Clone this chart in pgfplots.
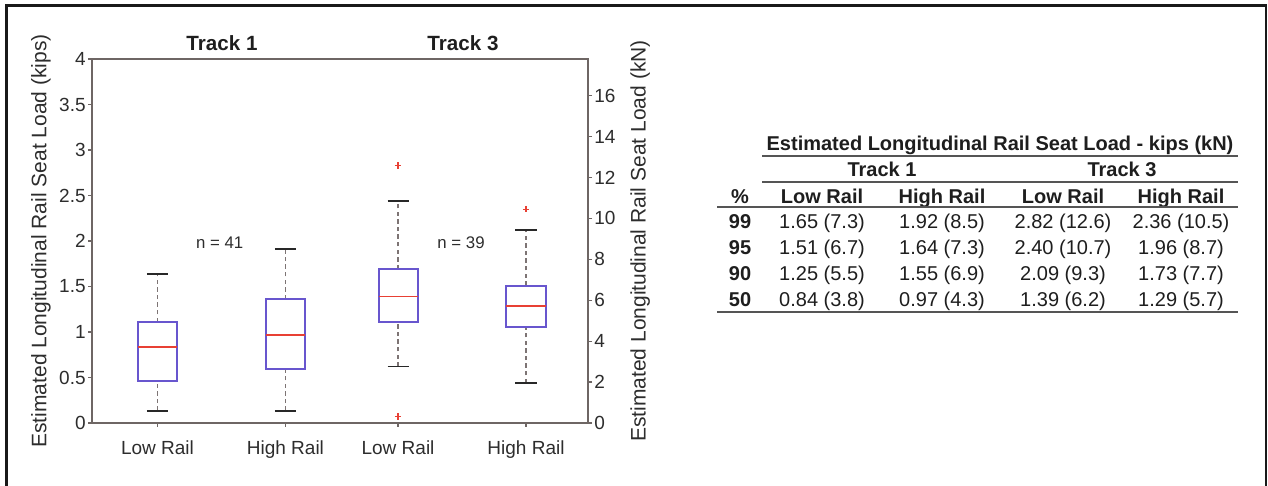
\documentclass[border=0pt]{standalone}
\usepackage{pgfplots}
\pgfplotsset{compat=1.18}
\usepgfplotslibrary{statistics}
\usepackage{fontspec}
\setmainfont{Liberation Sans}
\definecolor{boxblue}{RGB}{104,86,206}
\definecolor{medred}{RGB}{232,64,52}
\definecolor{whisk}{RGB}{125,116,116}
\definecolor{capc}{RGB}{40,40,40}
\definecolor{axc}{RGB}{110,102,100}
\definecolor{tickc}{RGB}{45,45,45}
\definecolor{rulec}{RGB}{85,85,85}
\definecolor{framec}{RGB}{25,25,25}
\definecolor{tablec}{RGB}{30,30,30}

\pgfplotsset{
  myboxes/.style={
    boxplot/draw direction=y,
    boxplot/draw/box/.code={\draw[boxblue,line width=1bp] (boxplot box cs:\pgfplotsboxplotvalue{lower quartile},0) rectangle (boxplot box cs:\pgfplotsboxplotvalue{upper quartile},1);},
    boxplot/draw/median/.code={\draw[medred,line width=0.9bp] (boxplot box cs:\pgfplotsboxplotvalue{median},0) -- (boxplot box cs:\pgfplotsboxplotvalue{median},1);},
    boxplot/draw/lower whisker/.code={\draw[whisk,line width=0.55bp,dash pattern=on 2.2bp off 1.6bp] (boxplot cs:\pgfplotsboxplotvalue{lower whisker}) -- (boxplot cs:\pgfplotsboxplotvalue{lower quartile});
      \draw[capc,line width=0.85bp] (boxplot whisker cs:\pgfplotsboxplotvalue{lower whisker},0) -- (boxplot whisker cs:\pgfplotsboxplotvalue{lower whisker},1);},
    boxplot/draw/upper whisker/.code={\draw[whisk,line width=0.55bp,dash pattern=on 2.2bp off 1.6bp] (boxplot cs:\pgfplotsboxplotvalue{upper quartile}) -- (boxplot cs:\pgfplotsboxplotvalue{upper whisker});
      \draw[capc,line width=0.85bp] (boxplot whisker cs:\pgfplotsboxplotvalue{upper whisker},0) -- (boxplot whisker cs:\pgfplotsboxplotvalue{upper whisker},1);},
    boxplot/box extend=0.315,
    boxplot/whisker extend=0.17,
  },
}

\begin{document}
\begin{tikzpicture}
\begin{scope}[x=0.5bp,y=0.5bp]
\useasboundingbox (0,0) rectangle (1268,486);
\fill[white] (0,0) rectangle (1268,486);
\draw[framec,line width=1.3bp] (6.5,-4) -- (6.5,480.5) -- (1266,480.5) -- (1266,-4);
\end{scope}

\begin{axis}[
  at={(46bp,31.5bp)}, anchor=south west,
  scale only axis, width=248bp, height=182bp,
  xmin=0.5, xmax=4.5, ymin=0, ymax=4,
  myboxes,
  xtick={1.028,2.06,2.968,4},
  xticklabels={Low Rail,High Rail,Low Rail,High Rail},
  ytick={0,0.5,1,1.5,2,2.5,3,3.5,4},
  xtick pos=bottom, ytick pos=left,
  tick align=outside, major tick length=2bp,
  axis line style={axc,line width=0.9bp},
  every tick/.style={axc,line width=0.6bp},
  /pgf/number format/assume math mode=true,
  yticklabel style={font=\fontsize{9.5bp}{11bp}\selectfont, text=tickc, inner sep=1bp},
  xticklabel style={font=\fontsize{9.5bp}{11bp}\selectfont, text=tickc, inner sep=1bp, yshift=-5.5bp},
  ylabel={Estimated Longitudinal Rail Seat Load (kips)},
  every axis y label/.style={at={(axis description cs:-0.1028,0.5)}, rotate=90, anchor=center, font=\fontsize{10.5bp}{12bp}\selectfont, text=tickc},
  clip=false,
]
% Track 1 Low Rail
\addplot[boxplot prepared={draw position=1.028, lower whisker=0.135, lower quartile=0.46, median=0.835, upper quartile=1.11, upper whisker=1.64}] coordinates {};
% Track 1 High Rail
\addplot[boxplot prepared={draw position=2.06, lower whisker=0.135, lower quartile=0.593, median=0.964, upper quartile=1.36, upper whisker=1.915}] coordinates {};
% Track 3 Low Rail
\addplot[boxplot prepared={draw position=2.968, lower whisker=0.62, lower quartile=1.11, median=1.39, upper quartile=1.69, upper whisker=2.44}] coordinates {};
% Track 3 High Rail
\addplot[boxplot prepared={draw position=4.0, lower whisker=0.44, lower quartile=1.06, median=1.29, upper quartile=1.51, upper whisker=2.12}] coordinates {};
% outliers
\addplot[only marks, mark=+, mark size=1.6bp, mark options={medred,line width=0.6bp}]
  coordinates {(2.968,2.83) (2.968,0.07) (4.0,2.35)};
\node[font=\fontsize{8.4bp}{10bp}\selectfont, text=tickc] at (axis cs:1.53,1.98) {n = 41};
\node[font=\fontsize{8.4bp}{10bp}\selectfont, text=tickc] at (axis cs:3.476,1.98) {n = 39};
\end{axis}

\begin{axis}[
  at={(46bp,31.5bp)}, anchor=south west,
  scale only axis, width=248bp, height=182bp,
  xmin=0.5, xmax=4.5, ymin=0, ymax=17.7929,
  hide x axis,
  ytick pos=right, yticklabel pos=right,
  ytick={0,2,4,6,8,10,12,14,16},
  tick align=outside, major tick length=2bp,
  axis line style={axc,line width=0.9bp},
  every tick/.style={axc,line width=0.6bp},
  /pgf/number format/assume math mode=true,
  yticklabel style={font=\fontsize{9.5bp}{11bp}\selectfont, text=tickc, inner sep=1bp},
  ylabel={Estimated Longitudinal Rail Seat Load (kN)},
  every axis y label/.style={at={(axis description cs:1.105,0.5)}, rotate=90, anchor=center, font=\fontsize{10.5bp}{12bp}\selectfont, text=tickc},
]
\addplot[draw=none] coordinates {(1,0)};
\end{axis}

\begin{scope}[x=0.5bp,y=0.5bp]
% titles
\node[font=\fontsize{10.3bp}{12bp}\selectfont\bfseries, text=tablec] at (222,443) {Track 1};
\node[font=\fontsize{10.3bp}{12bp}\selectfont\bfseries, text=tablec] at (463,443) {Track 3};

% table
\begin{scope}[every node/.style={inner sep=0pt, anchor=base, text=tablec}]
\node[font=\fontsize{10bp}{12bp}\selectfont\bfseries] at (1000,335) {Estimated Longitudinal Rail Seat Load - kips (kN)};
\node[font=\fontsize{10bp}{12bp}\selectfont\bfseries] at (882,309) {Track 1};
\node[font=\fontsize{10bp}{12bp}\selectfont\bfseries] at (1122,309) {Track 3};
\node[font=\fontsize{10bp}{12bp}\selectfont\bfseries] at (740,282) {\%};
\node[font=\fontsize{10bp}{12bp}\selectfont\bfseries] at (822,282) {Low Rail};
\node[font=\fontsize{10bp}{12bp}\selectfont\bfseries] at (942,282) {High Rail};
\node[font=\fontsize{10bp}{12bp}\selectfont\bfseries] at (1063,282) {Low Rail};
\node[font=\fontsize{10bp}{12bp}\selectfont\bfseries] at (1181,282) {High Rail};
\foreach \yy/\pp/\aa/\bb/\cc/\dd in {257/99/1.65 (7.3)/1.92 (8.5)/2.82 (12.6)/2.36 (10.5),
                                      231/95/1.51 (6.7)/1.64 (7.3)/2.40 (10.7)/1.96 (8.7),
                                      205/90/1.25 (5.5)/1.55 (6.9)/2.09 (9.3)/1.73 (7.7),
                                      179/50/0.84 (3.8)/0.97 (4.3)/1.39 (6.2)/1.29 (5.7)}{
  \node[font=\fontsize{10bp}{12bp}\selectfont\bfseries] at (740,\yy) {\pp};
  \node[font=\fontsize{10bp}{12bp}\selectfont] at (822,\yy) {\aa};
  \node[font=\fontsize{10bp}{12bp}\selectfont] at (942,\yy) {\bb};
  \node[font=\fontsize{10bp}{12bp}\selectfont] at (1063,\yy) {\cc};
  \node[font=\fontsize{10bp}{12bp}\selectfont] at (1181,\yy) {\dd};
}
\end{scope}
\draw[rulec,line width=1bp] (762,330) -- (1238,330);
\draw[rulec,line width=1bp] (762,304) -- (1238,304);
\draw[rulec,line width=1bp] (717,278.5) -- (1238,278.5);
\draw[rulec,line width=1bp] (717,174) -- (1238,174);
\end{scope}
\end{tikzpicture}
\end{document}
